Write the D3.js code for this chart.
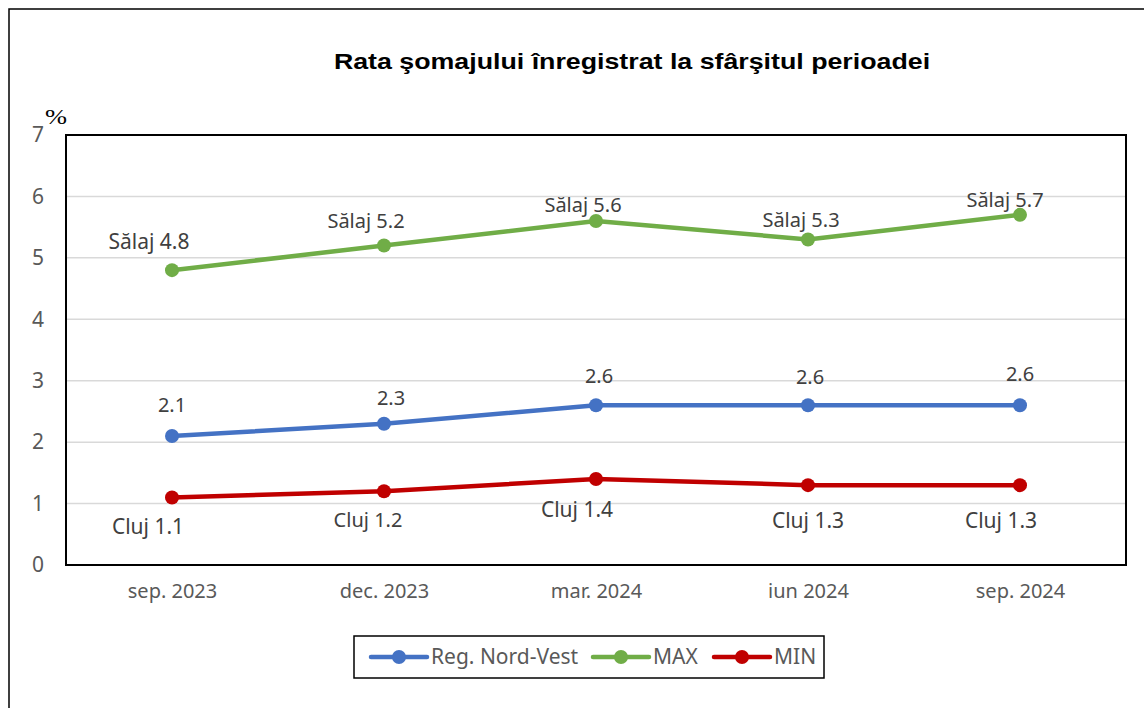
<!DOCTYPE html>
<html>
<head>
<meta charset="utf-8">
<script src="https://cdn.jsdelivr.net/npm/d3@7"></script>
<style>
  body { margin: 0; background: #fff; }
  text { font-family: "Noto Sans", "Open Sans", sans-serif; }
</style>
</head>
<body>
<svg id="chart" width="1144" height="708"></svg>
<script>
// data
const periods = ["sep. 2023", "dec. 2023", "mar. 2024", "iun 2024", "sep. 2024"]
const regNordVest = [2.1, 2.3, 2.6, 2.6, 2.6]
const maxValues = [4.8, 5.2, 5.6, 5.3, 5.7]
const maxCounty = ["Sălaj", "Sălaj", "Sălaj", "Sălaj", "Sălaj"]
const minValues = [1.1, 1.2, 1.4, 1.3, 1.3]
const minCounty = ["Cluj", "Cluj", "Cluj", "Cluj", "Cluj"]
const yTicks = [0, 1, 2, 3, 4, 5, 6, 7]

// label placement (dx, dy from the point, font size)
const regLabelPos = [[0, -24, 20], [7, -19, 20], [3, -22, 20], [2, -21, 20], [0, -24, 20]]
const maxLabelPos = [[-23, -21, 21], [-18, -18, 20], [-13, -9, 20], [-7, -12, 20], [-15, -8, 20]]
const minLabelPos = [[-24, 37, 21], [-16, 36, 20], [-19, 38, 21], [0, 43, 21], [-19, 43, 21]]

const series = [
  { name: "Reg. Nord-Vest", color: "#4472C4", values: regNordVest, labels: regNordVest.map(v => v.toFixed(1)), pos: regLabelPos },
  { name: "MAX", color: "#70AD47", values: maxValues, labels: maxValues.map((v, i) => maxCounty[i] + " " + v.toFixed(1)), pos: maxLabelPos },
  { name: "MIN", color: "#C00000", values: minValues, labels: minValues.map((v, i) => minCounty[i] + " " + v.toFixed(1)), pos: minLabelPos }
]

const svg = d3.select("#chart")
const margin = { left: 66, top: 135, right: 1126, bottom: 565 }

// outer frame
svg.append("rect")
  .attr("x", 9).attr("y", 9)
  .attr("width", 1150).attr("height", 720)
  .attr("fill", "none").attr("stroke", "#000").attr("stroke-width", 1.5)

// title (horizontally stretched like the source image)
svg.append("text")
  .attr("transform", "translate(632,69) scale(1.2,1)")
  .attr("text-anchor", "middle")
  .style("font-family", "'Liberation Sans', Arial, sans-serif")
  .style("font-weight", "bold")
  .style("font-size", "22.3px")
  .text("Rata şomajului înregistrat la sfârşitul perioadei")

const x = d3.scalePoint()
  .domain(periods)
  .range([margin.left, margin.right])
  .padding(0.5)

const y = d3.scaleLinear()
  .domain([0, 7])
  .range([margin.bottom, margin.top])

// gridlines
svg.append("g")
  .selectAll("line")
  .data(yTicks.filter(t => t > 0 && t < 7))
  .enter()
  .append("line")
  .attr("x1", margin.left).attr("x2", margin.right)
  .attr("y1", d => y(d)).attr("y2", d => y(d))
  .attr("stroke", "#d9d9d9").attr("stroke-width", 1.5)

// plot area frame
svg.append("rect")
  .attr("x", margin.left).attr("y", margin.top)
  .attr("width", margin.right - margin.left)
  .attr("height", margin.bottom - margin.top)
  .attr("fill", "none").attr("stroke", "#000").attr("stroke-width", 2)

// y axis labels
const yAxis = svg.append("g")
  .attr("transform", `translate(${margin.left},0)`)
  .call(d3.axisLeft(y).tickValues(yTicks).tickFormat(d3.format("d")).tickSize(0).tickPadding(22))
yAxis.select(".domain").remove()
yAxis.selectAll("text")
  .attr("fill", "#595959")
  .style("font-size", "21px")
  .style("font-family", "'Noto Sans', sans-serif")

// x axis labels
const xAxis = svg.append("g")
  .attr("transform", `translate(0,${margin.bottom})`)
  .call(d3.axisBottom(x).tickSize(0).tickPadding(19))
xAxis.select(".domain").remove()
xAxis.selectAll("text")
  .attr("fill", "#595959")
  .style("font-size", "20px")
  .style("font-family", "'Noto Sans', sans-serif")

// % unit
svg.append("text")
  .attr("transform", "translate(45,124) scale(1.2,1)")
  .style("font-family", "'Liberation Serif', 'Times New Roman', serif")
  .style("font-size", "22px")
  .attr("fill", "#000")
  .text("%")

// lines & markers
const line = d3.line()
  .x((d, i) => x(periods[i]))
  .y(d => y(d))

series.forEach(s => {
  const g = svg.append("g")
  g.append("path")
    .datum(s.values)
    .attr("d", line)
    .attr("fill", "none")
    .attr("stroke", s.color)
    .attr("stroke-width", 4.5)
    .attr("stroke-linejoin", "round")
  g.selectAll("circle")
    .data(s.values)
    .enter()
    .append("circle")
    .attr("cx", (d, i) => x(periods[i]))
    .attr("cy", d => y(d))
    .attr("r", 7)
    .attr("fill", s.color)
  g.selectAll("text")
    .data(s.values)
    .enter()
    .append("text")
    .attr("x", (d, i) => x(periods[i]) + s.pos[i][0])
    .attr("y", (d, i) => y(d) + s.pos[i][1])
    .attr("text-anchor", "middle")
    .attr("fill", "#404040")
    .style("font-size", (d, i) => s.pos[i][2] + "px")
    .text((d, i) => s.labels[i])
})

// legend
const legend = svg.append("g")
legend.append("rect")
  .attr("x", 354).attr("y", 636)
  .attr("width", 470).attr("height", 42)
  .attr("fill", "#fff").attr("stroke", "#000").attr("stroke-width", 1.5)

const legendX = [371, 593, 714]
series.forEach((s, i) => {
  const lg = legend.append("g").attr("transform", `translate(${legendX[i]},657)`)
  lg.append("line")
    .attr("x1", 0).attr("x2", 56)
    .attr("stroke", s.color).attr("stroke-width", 4.5).attr("stroke-linecap", "round")
  lg.append("circle").attr("cx", 28).attr("r", 7).attr("fill", s.color)
  lg.append("text")
    .attr("x", 60).attr("y", 7)
    .attr("fill", "#595959")
    .style("font-size", "21px")
    .text(s.name)
})
</script>
</body>
</html>
